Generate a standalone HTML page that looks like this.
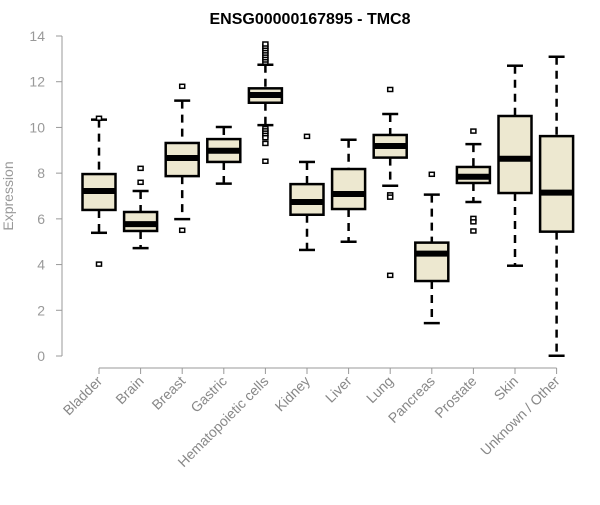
<!DOCTYPE html>
<html><head><meta charset="utf-8"><style>
body{margin:0;background:#fff;font-family:"Liberation Sans",Arial,sans-serif}
</style></head><body>
<svg id="chart" width="600" height="500" xmlns="http://www.w3.org/2000/svg">
<text x="310" y="24" text-anchor="middle" font-size="16" font-weight="bold">ENSG00000167895 - TMC8</text>
<text transform="translate(13,196) rotate(-90)" text-anchor="middle" font-size="14" fill="#999">Expression</text>
<g id="axes"></g><g id="boxes"></g>
</svg>
<script>
const categories=["Bladder","Brain","Breast","Gastric","Hematopoietic cells","Kidney","Liver","Lung","Pancreas","Prostate","Skin","Unknown / Other"];
const whiskerLow=[5.39,4.72,5.99,7.54,10.1,4.64,5.0,7.45,1.44,6.74,3.95,0.01];
const q1=[6.39,5.47,7.87,8.49,11.08,6.18,6.43,8.68,3.28,7.57,7.13,5.44];
const medians=[7.22,5.77,8.66,8.98,11.42,6.74,7.09,9.19,4.48,7.84,8.63,7.15];
const q3=[7.96,6.3,9.32,9.49,11.71,7.52,8.18,9.67,4.96,8.27,10.5,9.62];
const whiskerHigh=[10.34,7.22,11.17,10.02,12.74,8.49,9.46,10.59,7.06,9.27,12.7,13.09];
const outliers=[[4.02,10.4],[8.21,7.6],[11.8,5.5],[],[12.85,12.95,13.05,13.15,13.25,13.35,13.45,13.55,13.65,9.95,9.85,9.75,9.65,9.55,9.3,8.52],[9.61],[],[11.66,7.05,6.95,3.53],[7.95],[9.84,6.02,5.87,5.47],[],[]];
const yTicks=[0,2,4,6,8,10,12,14];
const NS="http://www.w3.org/2000/svg";
const y=v=>356-v*(320/14);
const x=i=>99+i*41.6;
function mk(parent,tag,attrs){const e=document.createElementNS(NS,tag);for(const k in attrs)e.setAttribute(k,attrs[k]);parent.appendChild(e);return e;}
const axes=document.getElementById('axes'),boxes=document.getElementById('boxes');
let l=mk(axes,'line',{x1:62,y1:y(0),x2:62,y2:y(14),stroke:'#999','stroke-width':1});


yTicks.forEach(t=>{
 const tk=mk(axes,'line',{x1:56,x2:62,y1:y(t),y2:y(t),stroke:'#999'});
 
 
 const tx=mk(axes,'text',{x:45,y:y(t)+5,'text-anchor':'end','font-size':14,fill:'#999'});
 tx.textContent=t;
 
 
});
l=mk(axes,'line',{x1:x(0),x2:x(categories.length-1),y1:368,y2:368,stroke:'#999'});


categories.forEach((c,i)=>{
 const cx=x(i);
 const tk=mk(axes,'line',{x1:cx,x2:cx,y1:368,y2:374,stroke:'#999'});
 
 
 const tx=mk(axes,'text',{transform:`translate(${cx+4},${382}) rotate(-45)`,'text-anchor':'end','font-size':14,fill:'#888'});
 tx.textContent=c;
 
 
 const g=mk(boxes,'g',{});
 
 
 const st={stroke:'#000','stroke-width':2.5};
 mk(g,'line',Object.assign({x1:cx,x2:cx,y1:y(whiskerHigh[i]),y2:y(q3[i]),'stroke-dasharray':'8,6'},st));
 mk(g,'line',Object.assign({x1:cx,x2:cx,y1:y(q1[i]),y2:y(whiskerLow[i]),'stroke-dasharray':'8,6'},st));
 mk(g,'line',Object.assign({x1:cx-8,x2:cx+8,y1:y(whiskerHigh[i]),y2:y(whiskerHigh[i])},st));
 mk(g,'line',Object.assign({x1:cx-8,x2:cx+8,y1:y(whiskerLow[i]),y2:y(whiskerLow[i])},st));
 mk(g,'rect',Object.assign({x:cx-16.5,width:33,y:y(q3[i]),height:y(q1[i])-y(q3[i]),fill:'#ede8d0'},st));
 mk(g,'line',{x1:cx-16.5,x2:cx+16.5,y1:y(medians[i]),y2:y(medians[i]),stroke:'#000','stroke-width':6});
 outliers[i].forEach(o=>{
  const p=mk(g,'rect',{x:cx-2.5,y:y(o)-2,width:5,height:4,fill:'#fff',stroke:'#000','stroke-width':1.5});
  
  
 });
});
</script>
</body></html>
